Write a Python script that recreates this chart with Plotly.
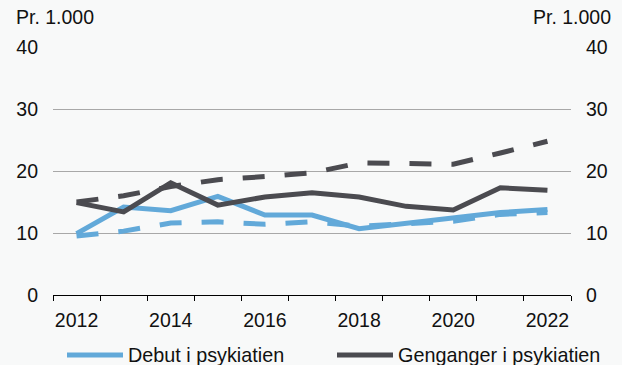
import plotly.graph_objects as go

# Rate per 1,000, 2012-2022
years = list(range(2012, 2023))
debut_actual = [9.9, 14.2, 13.6, 15.9, 12.9, 12.9, 10.7, 11.5, 12.3, 13.3, 13.8]
debut_trend = [9.5, 10.3, 11.6, 11.8, 11.4, 11.8, 11.1, 11.4, 11.9, 13.0, 13.3]
repeat_actual = [14.9, 13.4, 18.1, 14.5, 15.8, 16.5, 15.8, 14.3, 13.7, 17.3, 16.9]
repeat_trend = [15.0, 16.0, 17.5, 18.6, 19.1, 19.7, 21.3, 21.3, 21.1, 22.9, 24.8]

y_ticks = [0, 10, 20, 30, 40]
x_label_years = [2012, 2014, 2016, 2018, 2020, 2022]
legend_names = ["Debut i psykiatien", "Genganger i psykiatien"]
unit_label = "Pr. 1.000"

BLUE = "#62a9d9"
DARK = "#4b4b50"
BG = "#f8f9f9"
TEXT = "#111111"
FONT = "Liberation Sans, Arial, sans-serif"
FS = 19.5
FS_LEGEND = 19.8
DASH = "22px,20px"

W, H = 622, 365
L, R, T, B = 53, 51, 47, 70
pw, ph = W - L - R, H - T - B


def px_x(px):
    return (px - L) / pw


def px_y(py):
    return (H - B - py) / ph


fig = go.Figure()
series = [
    (debut_trend, BLUE, DASH),
    (repeat_trend, DARK, DASH),
    (debut_actual, BLUE, "solid"),
    (repeat_actual, DARK, "solid"),
]
for vals, col, dash in series:
    fig.add_trace(go.Scatter(
        x=years, y=vals, mode="lines", showlegend=False,
        line=dict(color=col, width=5, dash=dash),
        hoverinfo="skip",
    ))

# Right-hand axis carries the same scale
fig.add_trace(go.Scatter(x=[years[0]], y=[0], yaxis="y2", mode="markers",
                         marker=dict(opacity=0), showlegend=False, hoverinfo="skip"))

half_years = [y - 0.5 for y in years] + [years[-1] + 0.5]

fig.update_layout(
    width=W, height=H,
    margin=dict(l=L, r=R, t=T, b=B, pad=0),
    paper_bgcolor=BG, plot_bgcolor=BG,
    font=dict(family=FONT, size=FS, color=TEXT),
    showlegend=False,
    xaxis=dict(
        range=[years[0] - 0.5, years[-1] + 0.5],
        tickmode="array", tickvals=x_label_years,
        ticktext=[str(v) for v in x_label_years],
        ticks="", showgrid=False, zeroline=False,
        showline=True, linecolor="#000000", linewidth=1,
        ticklabelstandoff=8,
        minor=dict(tickmode="array", tickvals=half_years, ticks="outside",
                   ticklen=5, tickwidth=1, tickcolor="#000000", showgrid=False),
    ),
    yaxis=dict(
        range=[0, 40], tickmode="array", tickvals=y_ticks,
        ticks="", showgrid=True, gridcolor="#a8a8a8", gridwidth=1,
        zeroline=False, showline=False, ticklabelstandoff=14,
    ),
    yaxis2=dict(
        range=[0, 40], tickmode="array", tickvals=y_ticks,
        overlaying="y", side="right", ticks="", showgrid=False,
        zeroline=False, showline=False, ticklabelstandoff=14,
    ),
)

# Unit labels above both value axes
fig.add_annotation(text=unit_label, xref="paper", yref="paper",
                   x=px_x(15), y=px_y(17), xanchor="left", yanchor="middle",
                   showarrow=False, borderpad=0)
fig.add_annotation(text=unit_label, xref="paper", yref="paper",
                   x=px_x(612), y=px_y(17), xanchor="right", yanchor="middle",
                   showarrow=False, borderpad=0)

# Legend: line sample followed by label
legend_items = [(legend_names[0], BLUE, 67, 123, 127), (legend_names[1], DARK, 337, 393, 397)]
for name, col, x0, x1, xt in legend_items:
    fig.add_shape(type="line", xref="paper", yref="paper",
                  x0=px_x(x0), x1=px_x(x1), y0=px_y(355), y1=px_y(355),
                  line=dict(color=col, width=5))
    fig.add_annotation(text=name, xref="paper", yref="paper",
                       x=px_x(xt), y=px_y(355), xanchor="left", yanchor="middle",
                       showarrow=False, borderpad=0, font=dict(size=FS_LEGEND))

fig.write_html("out.html")
